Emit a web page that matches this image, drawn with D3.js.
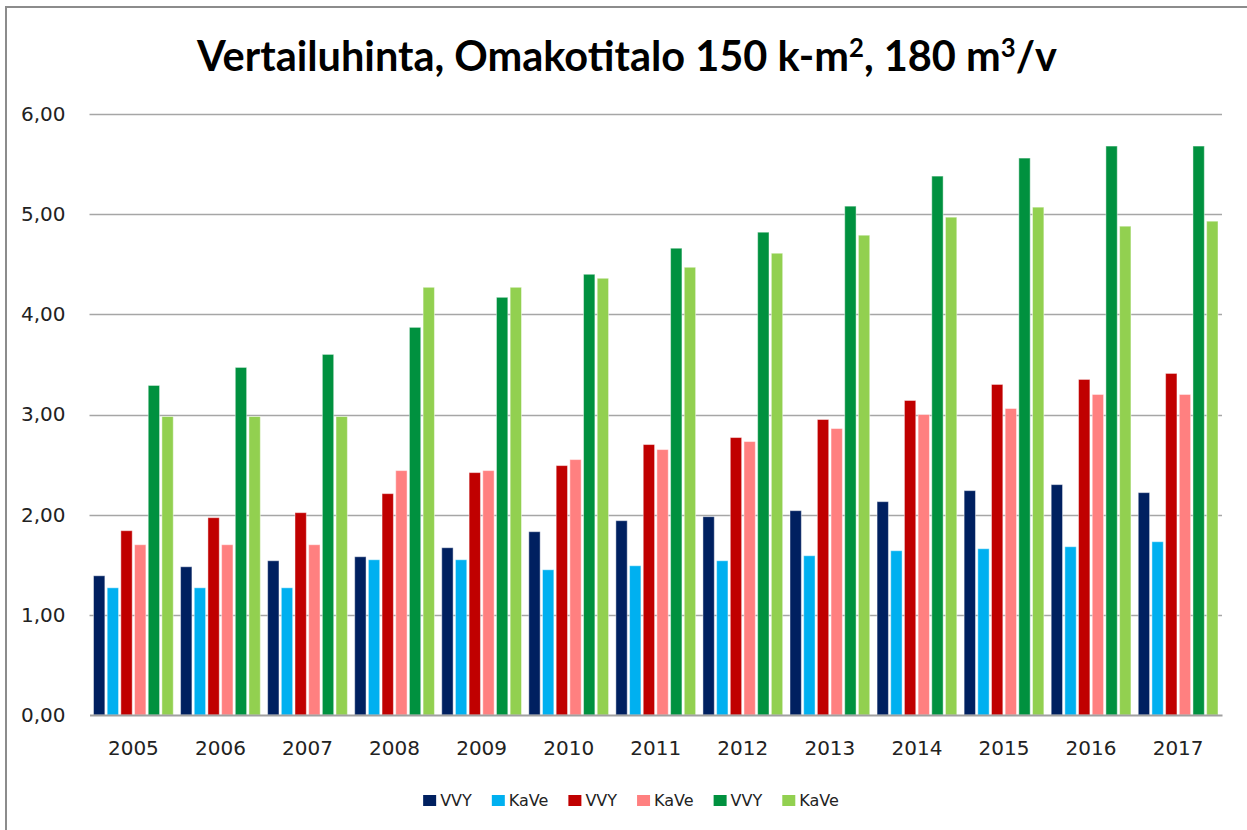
<!DOCTYPE html>
<html>
<head>
<meta charset="utf-8">
<script src="https://cdn.jsdelivr.net/npm/d3@7"></script>
<style>
  body { margin: 0; background: #fff; }
  svg { display: block; }
</style>
</head>
<body>
<svg id="chart"></svg>
<script>
// data
var years = ["2005", "2006", "2007", "2008", "2009", "2010", "2011",
             "2012", "2013", "2014", "2015", "2016", "2017"];
var seriesNames = ["VVY", "KaVe", "VVY", "KaVe", "VVY", "KaVe"];
var seriesColors = ["#002060", "#00b0f0", "#c00000", "#ff8080", "#00913f", "#92d050"];

var vvy1  = [1.39, 1.48, 1.54, 1.58, 1.67, 1.83, 1.94, 1.98, 2.04, 2.13, 2.24, 2.30, 2.22];
var kave1 = [1.27, 1.27, 1.27, 1.55, 1.55, 1.45, 1.49, 1.54, 1.59, 1.64, 1.66, 1.68, 1.73];
var vvy2  = [1.84, 1.97, 2.02, 2.21, 2.42, 2.49, 2.70, 2.77, 2.95, 3.14, 3.30, 3.35, 3.41];
var kave2 = [1.70, 1.70, 1.70, 2.44, 2.44, 2.55, 2.65, 2.73, 2.86, 3.00, 3.06, 3.20, 3.20];
var vvy3  = [3.29, 3.47, 3.60, 3.87, 4.17, 4.40, 4.66, 4.82, 5.08, 5.38, 5.56, 5.68, 5.68];
var kave3 = [2.98, 2.98, 2.98, 4.27, 4.27, 4.36, 4.47, 4.61, 4.79, 4.97, 5.07, 4.88, 4.93];

var yTicks = [0, 1, 2, 3, 4, 5, 6];
var titleText = ["Vertailuhinta, Omakotitalo 150 k-m", "2", ", 180 m", "3", "/v"];

var allSeries = [vvy1, kave1, vvy2, kave2, vvy3, kave3];

var WIDTH = 1247,
    HEIGHT = 830;
var PLOT = { left: 89.5, right: 1222, top: 114, bottom: 715 };

var fi = d3.formatLocale({ decimal: ",", thousands: " ", grouping: [3], currency: ["", "€"] });
var fmt = fi.format(".2f");

var svg = d3.select("#chart")
    .attr("width", WIDTH)
    .attr("height", HEIGHT);

svg.append("rect")
    .attr("width", WIDTH)
    .attr("height", HEIGHT)
    .attr("fill", "#fff");

// chart area border (only left and top visible, picture is cropped)
svg.append("rect")
    .attr("x", 6)
    .attr("y", 7)
    .attr("width", WIDTH + 20)
    .attr("height", HEIGHT + 20)
    .attr("fill", "none")
    .attr("stroke", "#8c8c8c")
    .attr("stroke-width", 2);

var y = d3.scaleLinear()
    .domain([0, 6])
    .range([PLOT.bottom, PLOT.top]);

var x0 = d3.scaleBand()
    .domain(years)
    .range([PLOT.left, PLOT.right])
    .paddingInner(0.084)
    .paddingOuter(0.046);

var x1 = d3.scaleBand()
    .domain(d3.range(seriesNames.length))
    .range([0, x0.bandwidth()])
    .paddingInner(0.17);

// gridlines
svg.append("g")
    .selectAll("line")
    .data(yTicks.filter(function(d) { return d > 0; }))
    .enter().append("line")
    .attr("x1", PLOT.left)
    .attr("x2", PLOT.right)
    .attr("y1", function(d) { return Math.round(y(d)) + 0.5; })
    .attr("y2", function(d) { return Math.round(y(d)) + 0.5; })
    .attr("stroke", "#a6a6a6")
    .attr("stroke-width", 1.5);

// y axis labels
var yAxis = d3.axisLeft(y)
    .tickValues(yTicks)
    .tickFormat(fmt)
    .tickSize(0)
    .tickPadding(24);

var gy = svg.append("g")
    .attr("transform", "translate(" + PLOT.left + ",0)")
    .call(yAxis);
gy.select(".domain").remove();
gy.selectAll("text")
    .attr("font-family", "DejaVu Sans")
    .attr("font-size", 20)
    .attr("fill", "#222");

// bars
var groups = svg.append("g")
    .selectAll("g")
    .data(years)
    .enter().append("g")
    .attr("transform", function(d) { return "translate(" + x0(d) + ",0)"; });

groups.selectAll("rect")
    .data(function(d, i) {
      return allSeries.map(function(s, k) { return { k: k, v: s[i] }; });
    })
    .enter().append("rect")
    .attr("x", function(d) { return x1(d.k); })
    .attr("width", x1.bandwidth())
    .attr("y", function(d) { return y(d.v); })
    .attr("height", function(d) { return y(0) - y(d.v); })
    .attr("fill", function(d) { return seriesColors[d.k]; })
    .attr("stroke", "#fff")
    .attr("stroke-opacity", 0.45)
    .attr("stroke-width", 1);

// x axis
var xAxis = d3.axisBottom(x0)
    .tickSize(0)
    .tickPadding(26);

var gx = svg.append("g")
    .attr("transform", "translate(0," + PLOT.bottom + ")")
    .call(xAxis);
gx.select(".domain")
    .attr("stroke", "#a0a0a0")
    .attr("stroke-width", 2);
gx.selectAll("text")
    .attr("font-family", "DejaVu Sans")
    .attr("font-size", 20)
    .attr("fill", "#222");

// title
var title = svg.append("text")
    .attr("x", 627)
    .attr("y", 71)
    .attr("text-anchor", "middle")
    .attr("font-family", "Lato")
    .attr("font-weight", "bold")
    .attr("font-size", 40)
    .attr("fill", "#000");

titleText.forEach(function(t, i) {
  var span = title.append("tspan").text(t);
  if (i % 2 === 1) {
    span.attr("font-size", "0.62em").attr("baseline-shift", "55%");
  }
});
var tw = title.node().getComputedTextLength();
title.attr("font-size", 40 * 860 / tw);

// legend
var legend = svg.append("g");
var lx = 0;
seriesNames.forEach(function(name, i) {
  var item = legend.append("g").attr("transform", "translate(" + lx + ",0)");
  item.append("rect")
      .attr("x", 0)
      .attr("y", 795)
      .attr("width", 13)
      .attr("height", 11)
      .attr("fill", seriesColors[i]);
  var t = item.append("text")
      .attr("x", 17)
      .attr("y", 806)
      .attr("font-family", "DejaVu Sans")
      .attr("font-size", 16)
      .attr("fill", "#222")
      .text(name);
  lx += 17 + t.node().getComputedTextLength() + 20;
});
lx -= 20;
legend.attr("transform", "translate(" + (631 - lx / 2) + ",0)");
</script>
</body>
</html>
